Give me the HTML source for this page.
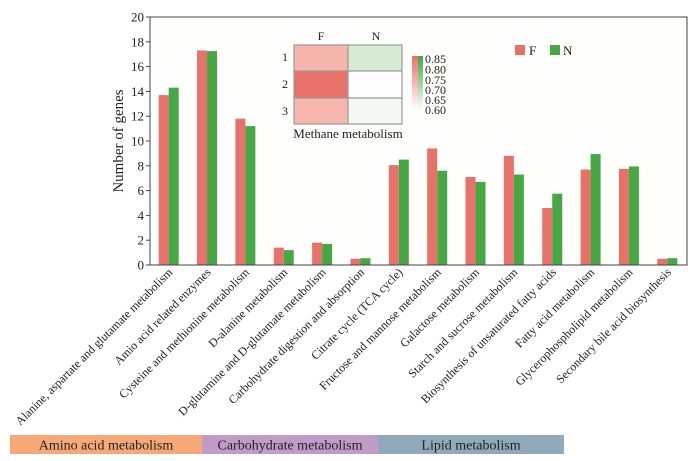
<!DOCTYPE html>
<html><head><meta charset="utf-8"><style>
body{margin:0;background:#fff;}
svg{display:block;}
svg text{font-family:"Liberation Serif","Times New Roman",Times,serif;fill:#222;}
</style></head><body>
<svg id="chart" width="700" height="461">
<defs>
<linearGradient id="gr" x1="0" y1="1" x2="0" y2="0"><stop offset="0" stop-color="#fff"/><stop offset="1" stop-color="#e8716a"/></linearGradient>
<linearGradient id="gg" x1="0" y1="1" x2="0" y2="0"><stop offset="0" stop-color="#fff"/><stop offset="1" stop-color="#3fa63f"/></linearGradient>
</defs>
<rect x="150" y="17" width="537" height="248" fill="#fefefc" stroke="#444" stroke-width="1"/>
<g id="bars"></g>
<g id="axis"></g>
<g id="xlabels"></g>
<text transform="translate(123,141) rotate(-90)" text-anchor="middle" font-size="15">Number of genes</text>
<g>
<rect x="515" y="45" width="10" height="10" fill="#e8716a"/>
<text x="529" y="55" font-size="13">F</text>
<rect x="550" y="45" width="10" height="10" fill="#45a844"/>
<text x="563" y="55" font-size="13">N</text>
</g>
<g>
<text x="321" y="40" text-anchor="middle" font-size="12">F</text>
<text x="376" y="40" text-anchor="middle" font-size="12">N</text>
<text x="288" y="61" text-anchor="end" font-size="12">1</text>
<text x="288" y="88" text-anchor="end" font-size="12">2</text>
<text x="288" y="115" text-anchor="end" font-size="12">3</text>
<rect x="294" y="45" width="54" height="26" fill="#f5b5ab"/>
<rect x="348" y="45" width="54" height="26" fill="#d7ead3"/>
<rect x="294" y="71" width="54" height="27" fill="#e8716a"/>
<rect x="348" y="71" width="54" height="27" fill="#fefefe"/>
<rect x="294" y="98" width="54" height="26" fill="#f6b8ae"/>
<rect x="348" y="98" width="54" height="26" fill="#f4f8f2"/>
<g stroke="#999" stroke-width="1.2" fill="none"><rect x="294" y="45" width="108" height="79"/><line x1="348" y1="45" x2="348" y2="124"/><line x1="294" y1="71" x2="402" y2="71"/><line x1="294" y1="98" x2="402" y2="98"/></g>
<text x="348" y="138" text-anchor="middle" font-size="13">Methane metabolism</text>
<rect x="412" y="56" width="6" height="54" fill="url(#gr)"/>
<rect x="418" y="56" width="5" height="54" fill="url(#gg)"/>
<g font-size="12">
<text x="425" y="63">0.85</text><text x="425" y="73.5">0.80</text><text x="425" y="84">0.75</text><text x="425" y="94">0.70</text><text x="425" y="104">0.65</text><text x="425" y="114">0.60</text></g>
</g>
<g font-size="14">
<rect x="10" y="435" width="192" height="19" fill="#f6a877"/>
<rect x="202" y="435" width="176" height="19" fill="#c29cc8"/>
<rect x="378" y="435" width="186" height="19" fill="#90aabb"/>
<text x="106" y="449.5" text-anchor="middle">Amino acid metabolism</text>
<text x="290" y="449.5" text-anchor="middle">Carbohydrate metabolism</text>
<text x="471" y="449.5" text-anchor="middle">Lipid metabolism</text>
</g>
</svg>
<script>
const categories=["Alanine, aspartate and glutamate metabolism","Amio acid related enzymes","Cysteine and methionine metabolism","D-alanine metabolism","D-glutamine and D-glutamate metabolism","Carbohydrate digestion and absorption","Citrate cycle (TCA cycle)","Fructose and mannose metabolism","Galactose metabolism","Starch and sucrose metabolism","Biosynthesis of unsaturated fatty acids","Fatty acid metabolism","Glycerophospholipid metabolism","Secondary bile acid biosynthesis"];
const seriesF=[13.7,17.3,11.8,1.4,1.8,0.5,8.05,9.4,7.1,8.8,4.6,7.7,7.75,0.5];
const seriesN=[14.3,17.25,11.2,1.2,1.7,0.55,8.5,7.6,6.7,7.3,5.75,8.95,7.95,0.55];
const yTicks=[0,2,4,6,8,10,12,14,16,18,20];
const NS="http://www.w3.org/2000/svg";
const X0=150,X1=687,Y0=265,Y1=17,YMAX=20;
const bw=(X1-X0)/categories.length;
const xc=i=>X0+bw*(i+0.5);
const y=v=>Y0-(v/YMAX)*(Y0-Y1);
function mk(t,a,p){const e=document.createElementNS(NS,t);for(const k in a)e.setAttribute(k,a[k]);p.appendChild(e);return e;}
const gb=document.getElementById('bars'),ga=document.getElementById('axis'),gx=document.getElementById('xlabels');
categories.forEach((c,i)=>{
 const r1=mk('rect',{x:xc(i)-10.5,y:y(seriesF[i]),width:10,height:Y0-y(seriesF[i]),fill:'#e8716a'},gb);
 
 
 const r2=mk('rect',{x:xc(i)-0.5,y:y(seriesN[i]),width:10,height:Y0-y(seriesN[i]),fill:'#45a844'},gb);
 
 
 const t=mk('text',{transform:`translate(${xc(i)+4},273) rotate(-45)`,'text-anchor':'end','font-size':'12'},gx);
 t.textContent=c;
 
 
});
mk('line',{x1:X0,y1:Y0,x2:X1,y2:Y0,stroke:'#444'},ga);
mk('line',{x1:X0,y1:Y0,x2:X0,y2:Y1,stroke:'#444'},ga);
yTicks.forEach(v=>{
 mk('line',{x1:X0-4,y1:y(v),x2:X0,y2:y(v),stroke:'#444'},ga);
 const t=mk('text',{x:X0-6,y:y(v)+4.5,'text-anchor':'end','font-size':'13'},ga);
 t.textContent=v;
 
 
});
</script>
</body></html>
